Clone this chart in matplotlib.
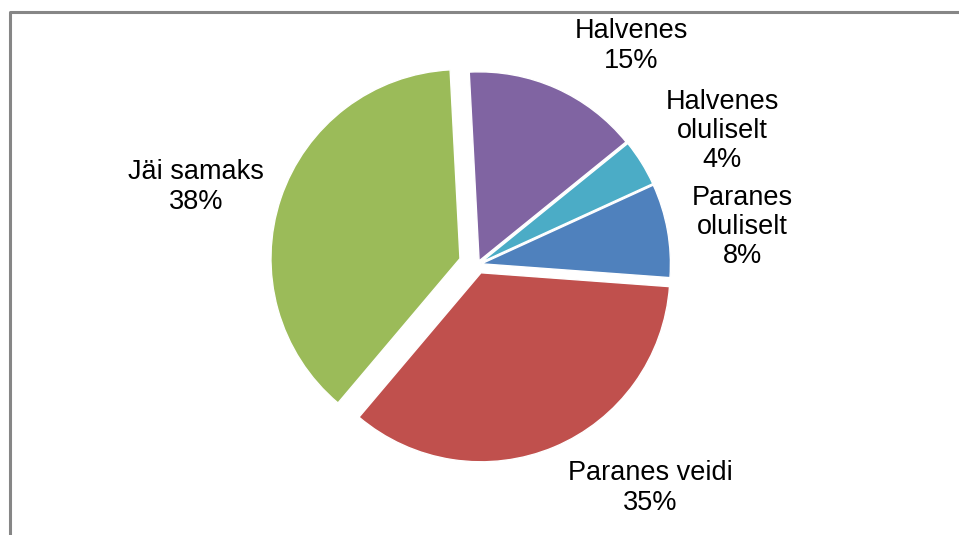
import matplotlib
matplotlib.use("Agg")
from matplotlib import pyplot as plt

# slices in drawing order, clockwise from the top
labels = ["Halvenes", "Halvenes oluliselt", "Paranes oluliselt", "Paranes veidi", "Jäi samaks"]
values = [15, 4, 8, 35, 38]
colors = ["#8064A2", "#4BACC6", "#4F81BD", "#C0504D", "#9BBB59"]

# label block centres in pixels (x, y from top)
label_pos = [(631, 46), (722, 131), (742, 227), (650, 488), (196, 187)]

W, H = 959, 535
plt.rcParams['font.family'] = ['Liberation Sans', 'DejaVu Sans']

fig = plt.figure(figsize=(W / 100, H / 100), dpi=100)
ax = fig.add_axes([0, 0, 1, 1])

cx, cy, r = 477.5, H - 264.5, 189
# pie explode is in data units here (pixels)
offsets = [4, 4, 4, 9, 18.5]
ax.pie(values, colors=colors, explode=offsets, startangle=93, counterclock=False,
       center=(cx, cy), radius=r, frame=True,
       wedgeprops=dict(edgecolor="white", linewidth=1.0))
ax.set_xlim(0, W)
ax.set_ylim(0, H)
ax.set_aspect("equal")
ax.axis("off")

for name, v, (x, y) in zip(labels, values, label_pos):
    txt = name.replace(" oluliselt", "\noluliselt")
    ax.text(x, H - y, f"{txt}\n{v}%", ha="center", va="center",
            fontsize=19.5, linespacing=1.17, color="black")

# chart area border (only left and top edges are inside the picture)
ax.plot([9.5, 9.5, W + 5], [-5, H - 11.5, H - 11.5], color="#868686",
        linewidth=2.2, solid_capstyle="butt", clip_on=False)

fig.savefig("out.png", dpi=100)
